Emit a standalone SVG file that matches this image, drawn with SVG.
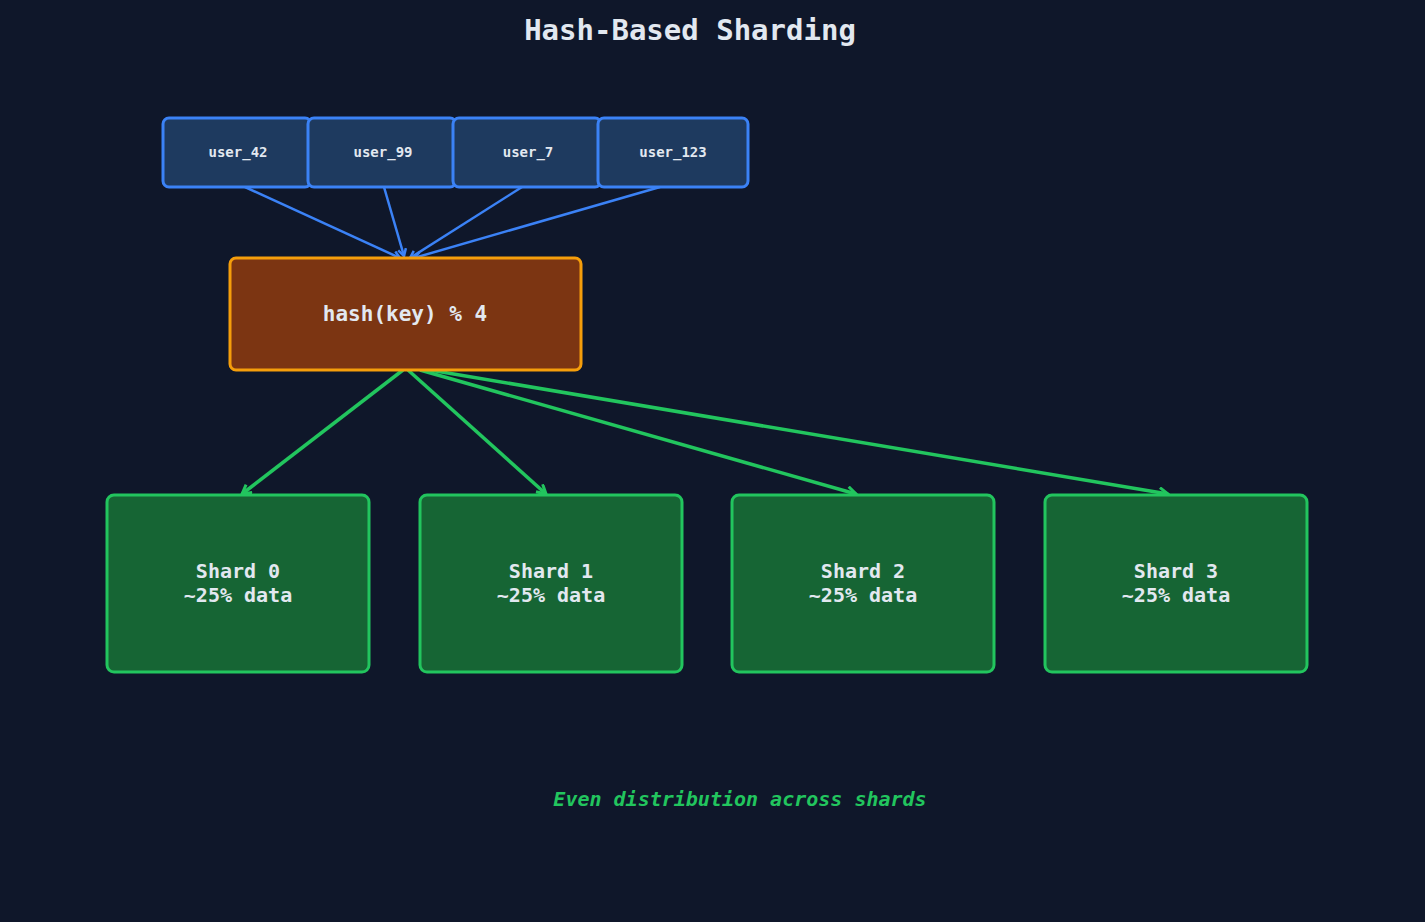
<svg xmlns="http://www.w3.org/2000/svg" width="1425" height="922" viewBox="0 0 1425 922">
<style>
text{font-family:"DejaVu Sans Mono","Liberation Mono",monospace;fill:#e2e8f0;text-anchor:middle;font-weight:bold}
.u rect{fill:#1e3a5f;stroke:#3b82f6;stroke-width:3}
.s rect{fill:#166534;stroke:#22c55e;stroke-width:3}
.b{stroke:#3b82f6;stroke-width:2.5;fill:none;marker-end:url(#mb)}
.g{stroke:#22c55e;stroke-width:3.5;fill:none;marker-end:url(#mg)}
</style>
<defs>
<marker id="mb" markerWidth="10" markerHeight="10" refX="8" refY="5" orient="auto" markerUnits="userSpaceOnUse"><path d="M1,1 L8,5 L1,9" fill="none" stroke="#3b82f6" stroke-width="2.5"/></marker>
<marker id="mg" markerWidth="12" markerHeight="12" refX="10" refY="6" orient="auto" markerUnits="userSpaceOnUse"><path d="M1,1 L10,6 L1,11" fill="none" stroke="#22c55e" stroke-width="3"/></marker>
</defs>
<rect width="1425" height="922" fill="#0f172a"/>
<text x="690" y="40" font-size="29">Hash-Based Sharding</text>
<g id="connectors">
<path class="b" d="M245,187 L400,258"/>
<path class="b" d="M384,187 L404,256"/>
<path class="b" d="M522,187 L410,258"/>
<path class="b" d="M660,187 L414,258"/>
<path class="g" d="M403,370 L242,494"/>
<path class="g" d="M408,370 L546,494"/>
<path class="g" d="M420,370 L856,494"/>
<path class="g" d="M430,370 L1168,494"/>
</g>
<g id="user_42" class="u"><rect x="163" y="118" width="148" height="69" rx="6"/><text x="238" y="157" font-size="14">user_42</text></g>
<g id="user_99" class="u"><rect x="308" y="118" width="148" height="69" rx="6"/><text x="383" y="157" font-size="14">user_99</text></g>
<g id="user_7" class="u"><rect x="453" y="118" width="148" height="69" rx="6"/><text x="528" y="157" font-size="14">user_7</text></g>
<g id="user_123" class="u"><rect x="598" y="118" width="150" height="69" rx="6"/><text x="673" y="157" font-size="14">user_123</text></g>
<g id="hash"><rect x="230" y="258" width="351" height="112" rx="6" fill="#7c3512" stroke="#f59e0b" stroke-width="3"/><text x="405" y="321" font-size="21">hash(key) % 4</text></g>
<g id="shard0" class="s"><rect x="107" y="495" width="262" height="177" rx="7"/><text x="238" y="578" font-size="20">Shard 0</text><text x="238" y="602" font-size="20">~25% data</text></g>
<g id="shard1" class="s"><rect x="420" y="495" width="262" height="177" rx="7"/><text x="551" y="578" font-size="20">Shard 1</text><text x="551" y="602" font-size="20">~25% data</text></g>
<g id="shard2" class="s"><rect x="732" y="495" width="262" height="177" rx="7"/><text x="863" y="578" font-size="20">Shard 2</text><text x="863" y="602" font-size="20">~25% data</text></g>
<g id="shard3" class="s"><rect x="1045" y="495" width="262" height="177" rx="7"/><text x="1176" y="578" font-size="20">Shard 3</text><text x="1176" y="602" font-size="20">~25% data</text></g>
<text x="740" y="806" font-size="20" font-style="italic" font-weight="normal" style="fill:#22c55e">Even distribution across shards</text>
</svg>
